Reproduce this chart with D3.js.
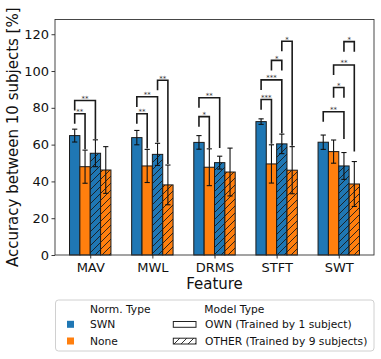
<!DOCTYPE html>
<html>
<head>
<meta charset="utf-8">
<script src="https://cdn.jsdelivr.net/npm/d3@7"></script>
<style>
  body { margin: 0; background: #fff; }
  text { font-family: "DejaVu Sans", sans-serif; }
</style>
</head>
<body>
<script>
// chart data
var features = ["MAV", "MWL", "DRMS", "STFT", "SWT"];
var seriesNames = ["SWN OWN", "None OWN", "SWN OTHER", "None OTHER"];
var seriesNorm = ["SWN", "None", "SWN", "None"];
var seriesHatched = [false, false, true, true];

// mean accuracy per feature, in series order
var means = [
  [64.9, 48.0, 55.3, 46.2],
  [63.8, 48.4, 54.7, 38.1],
  [61.2, 47.7, 50.2, 45.1],
  [72.5, 49.5, 60.4, 46.1],
  [61.3, 56.2, 48.4, 38.6]
];
// standard deviation per feature
var errs = [
  [3.5, 9.0, 7.3, 12.7],
  [3.9, 9.0, 6.0, 10.8],
  [3.7, 10.0, 3.5, 13.0],
  [1.5, 10.4, 5.3, 12.8],
  [3.9, 6.3, 7.3, 12.2]
];

// significance brackets: feature index, left bar, right bar, label, bracket height
var brackets = [
  {f: 0, a: 0, b: 1, label: "**", h: 76.8},
  {f: 0, a: 0, b: 2, label: "**", h: 84.0},
  {f: 1, a: 0, b: 1, label: "**", h: 76.8},
  {f: 1, a: 0, b: 2, label: "**", h: 86.0},
  {f: 1, a: 2, b: 3, label: "**", h: 95.0},
  {f: 2, a: 0, b: 1, label: "*", h: 75.2},
  {f: 2, a: 0, b: 2, label: "**", h: 85.5},
  {f: 3, a: 0, b: 1, label: "***", h: 84.5},
  {f: 3, a: 0, b: 2, label: "***", h: 95.2},
  {f: 3, a: 1, b: 2, label: "*", h: 105.8, short: true},
  {f: 3, a: 2, b: 3, label: "*", h: 116.2},
  {f: 4, a: 0, b: 2, label: "**", h: 77.9},
  {f: 4, a: 1, b: 2, label: "*", h: 91.0, short: true},
  {f: 4, a: 1, b: 3, label: "**", h: 103.3},
  {f: 4, a: 2, b: 3, label: "*", h: 116.0, short: true}
];

var yTicks = [0, 20, 40, 60, 80, 100, 120];

var w = 381, h = 359;
var padL = 55, padR = 374, padT = 19.5, padB = 255;
var barW = 1 / 6;

var color = d3.scaleOrdinal().domain(["SWN", "None"]).range(["#1f77b4", "#ff7f0e"]);

var x = d3.scaleLinear().domain([-0.567, 4.567]).range([padL, padR]);
var y = d3.scaleLinear().domain([0, 128]).range([padB, padT]);

var svg = d3.select("body").append("svg")
    .attr("width", w)
    .attr("height", h);

// hatch pattern for the OTHER model type
var defs = svg.append("defs");
function addHatch(id, bg) {
  var p = defs.append("pattern")
      .attr("id", id)
      .attr("patternUnits", "userSpaceOnUse")
      .attr("width", 7)
      .attr("height", 7);
  p.append("rect").attr("width", 7).attr("height", 7).attr("fill", bg);
  p.append("path")
      .attr("d", "M-1,8 L8,-1 M-2,2 L2,-2 M5,9 L9,5")
      .attr("stroke", "#1a1a1a")
      .attr("stroke-width", 0.9);
}
addHatch("hatch-SWN", color("SWN"));
addHatch("hatch-None", color("None"));
addHatch("hatch-white", "#fff");

function barX(fi, si) {
  return fi + (si - 1.5) * barW;
}

// bars
var rows = [];
features.forEach(function(f, fi) {
  seriesNames.forEach(function(s, si) {
    rows.push({fi: fi, si: si, v: means[fi][si], e: errs[fi][si]});
  });
});

svg.append("g").selectAll("rect")
    .data(rows)
    .enter()
    .append("rect")
    .attr("x", function(d) { return x(barX(d.fi, d.si) - barW / 2); })
    .attr("width", function(d) { return x(barW) - x(0); })
    .attr("y", function(d) { return y(d.v); })
    .attr("height", function(d) { return y(0) - y(d.v); })
    .attr("fill", function(d) {
      var n = seriesNorm[d.si];
      return seriesHatched[d.si] ? "url(#hatch-" + n + ")" : color(n);
    })
    .attr("stroke", "#1a1a1a")
    .attr("stroke-width", 1);

// error bars
var eg = svg.append("g").attr("stroke", "#111").attr("stroke-width", 1.1);
rows.forEach(function(d) {
  var cx = x(barX(d.fi, d.si));
  eg.append("line")
      .attr("x1", cx).attr("x2", cx)
      .attr("y1", y(d.v - d.e)).attr("y2", y(d.v + d.e));
  [d.v - d.e, d.v + d.e].forEach(function(v) {
    eg.append("line")
        .attr("x1", cx - 2.6).attr("x2", cx + 2.6)
        .attr("y1", y(v)).attr("y2", y(v));
  });
});

// significance brackets
var bg = svg.append("g");
brackets.forEach(function(b) {
  var lx = x(barX(b.f, b.a));
  var rx = x(barX(b.f, b.b));
  var leftEnd = b.h - 5.5;
  var rightEnd;
  if (b.short) {
    rightEnd = b.h - 5.5;
  } else {
    var m = 0;
    for (var k = b.a + 1; k <= b.b; k++) {
      m = Math.max(m, means[b.f][k] + errs[b.f][k]);
    }
    rightEnd = m + 0.5;
  }
  bg.append("path")
      .attr("d", "M" + lx + "," + y(leftEnd) + " L" + lx + "," + y(b.h) +
                 " L" + rx + "," + y(b.h) + " L" + rx + "," + y(rightEnd))
      .attr("fill", "none")
      .attr("stroke", "#1a1a1a")
      .attr("stroke-width", 1.6);
  bg.append("text")
      .attr("x", (lx + rx) / 2)
      .attr("y", y(b.h) + 0.5)
      .attr("text-anchor", "middle")
      .attr("font-size", 7)
      .attr("fill", "#333")
      .text(b.label);
});

// axes
var yAxis = svg.append("g")
    .attr("transform", "translate(" + padL + ",0)")
    .call(d3.axisLeft(y).tickValues(yTicks).tickSize(3.5).tickPadding(2.5));
var xAxis = svg.append("g")
    .attr("transform", "translate(0," + padB + ")")
    .call(d3.axisBottom(x).tickValues(d3.range(features.length))
      .tickFormat(function(i) { return features[i]; })
      .tickSize(3.5).tickPadding(4));

[yAxis, xAxis].forEach(function(a) {
  a.select(".domain").remove();
  a.selectAll("line").attr("stroke", "#222").attr("stroke-width", 0.9);
  a.selectAll("text")
      .attr("font-family", "DejaVu Sans")
      .attr("font-size", 13)
      .attr("fill", "#111");
});

// frame
svg.append("rect")
    .attr("x", padL).attr("y", padT)
    .attr("width", padR - padL).attr("height", padB - padT)
    .attr("fill", "none")
    .attr("stroke", "#333")
    .attr("stroke-width", 0.9);

// axis labels
svg.append("text")
    .attr("transform", "translate(18," + ((padT + padB) / 2) + ") rotate(-90)")
    .attr("text-anchor", "middle")
    .attr("font-size", 15)
    .attr("fill", "#111")
    .text("Accuracy between 10 subjects [%]");

svg.append("text")
    .attr("x", (padL + padR) / 2)
    .attr("y", 288.5)
    .attr("text-anchor", "middle")
    .attr("font-size", 15)
    .attr("fill", "#111")
    .text("Feature");

// legend
var lg = svg.append("g").attr("font-size", 10.7).attr("fill", "#111");
lg.append("rect")
    .attr("x", 55.5).attr("y", 300)
    .attr("width", 318.5).attr("height", 51)
    .attr("rx", 3)
    .attr("fill", "#fff")
    .attr("stroke", "#d0d0d0")
    .attr("stroke-width", 1);

lg.append("text").attr("x", 90).attr("y", 309).attr("dy", "0.35em").text("Norm. Type");
lg.append("text").attr("x", 204.3).attr("y", 309).attr("dy", "0.35em").text("Model Type");

var normTypes = ["SWN", "None"];
var normY = [324.3, 341];
normTypes.forEach(function(n, i) {
  lg.append("rect")
      .attr("x", 67).attr("y", normY[i] - 3.5)
      .attr("width", 7).attr("height", 7)
      .attr("fill", color(n));
  lg.append("text").attr("x", 90).attr("y", normY[i]).attr("dy", "0.35em").text(n);
});

var modelTypes = ["OWN (Trained by 1 subject)", "OTHER (Trained by 9 subjects)"];
modelTypes.forEach(function(m, i) {
  lg.append("rect")
      .attr("x", 173.3).attr("y", normY[i] - 2.8)
      .attr("width", 22.7).attr("height", 5.8)
      .attr("fill", i === 0 ? "#fff" : "url(#hatch-white)")
      .attr("stroke", "#222")
      .attr("stroke-width", 1);
  lg.append("text").attr("x", 205).attr("y", normY[i]).attr("dy", "0.35em").text(m);
});
</script>
</body>
</html>
